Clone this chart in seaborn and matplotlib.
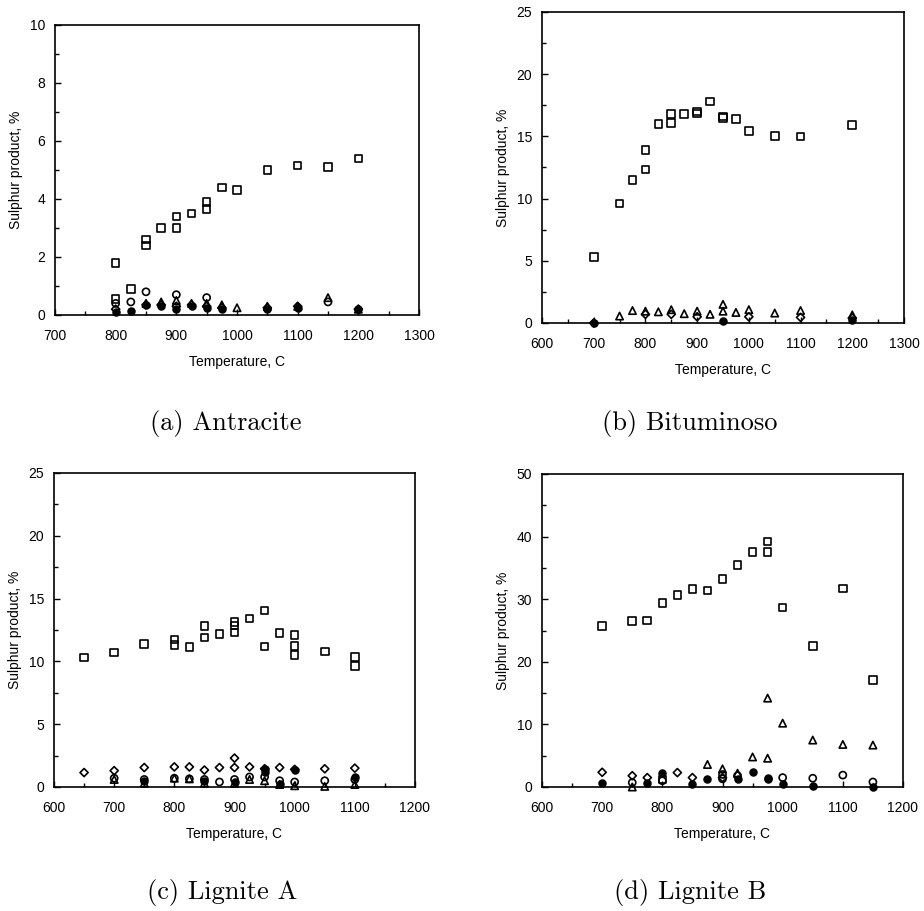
import matplotlib
matplotlib.use("Agg")
import matplotlib.pyplot as plt
import seaborn as sns
from matplotlib.ticker import MultipleLocator

sns.set_theme(style="white")
plt.rcParams['font.family'] = ['Liberation Sans', 'DejaVu Sans']

# ---------------- Data ----------------
# (a) Antracite
a_sq_T = [800, 800, 825, 850, 850, 875, 900, 900, 925, 950, 950, 975, 1000, 1050, 1100, 1150, 1200]
a_sq_v = [1.8, 0.55, 0.9, 2.6, 2.4, 3.0, 3.4, 3.0, 3.5, 3.9, 3.65, 4.4, 4.3, 5.0, 5.15, 5.1, 5.4]
a_ci_T = [800, 825, 850, 900, 950, 1150]
a_ci_v = [0.4, 0.45, 0.8, 0.7, 0.6, 0.45]
a_tr_T = [850, 875, 900, 925, 950, 975, 1000, 1050, 1100, 1150, 1200]
a_tr_v = [0.4, 0.45, 0.5, 0.4, 0.4, 0.35, 0.25, 0.3, 0.3, 0.6, 0.2]
a_di_T = [800, 850, 875, 900, 925, 950, 975, 1050, 1100, 1200]
a_di_v = [0.2, 0.35, 0.35, 0.3, 0.35, 0.3, 0.25, 0.25, 0.3, 0.2]
a_fi_T = [800, 825, 850, 875, 900, 925, 950, 975, 1050, 1100, 1200]
a_fi_v = [0.1, 0.15, 0.35, 0.3, 0.2, 0.3, 0.25, 0.2, 0.2, 0.25, 0.2]

# (b) Bituminoso
b_sq_T = [700, 750, 775, 800, 800, 825, 850, 850, 875, 900, 900, 925, 950, 950, 975, 1000, 1050, 1100, 1200]
b_sq_v = [5.3, 9.6, 11.5, 13.9, 12.35, 16.0, 16.8, 16.1, 16.8, 17.0, 16.85, 17.8, 16.6, 16.5, 16.4, 15.45, 15.05, 15.0, 15.9]
b_tr_T = [750, 775, 800, 825, 850, 875, 900, 925, 950, 950, 975, 1000, 1050, 1100, 1200]
b_tr_v = [0.56, 1.0, 0.95, 0.9, 1.07, 0.75, 0.95, 0.7, 1.5, 0.95, 0.85, 1.07, 0.8, 1.0, 0.65]
b_di_T = [700, 800, 850, 900, 1000, 1100, 1200]
b_di_v = [0.0, 0.7, 0.7, 0.5, 0.5, 0.45, 0.4]
b_fi_T = [700, 950, 1200]
b_fi_v = [0.0, 0.2, 0.25]

# (c) Lignite A
c_sq_T = [650, 700, 750, 800, 800, 825, 850, 850, 875, 900, 900, 900, 925, 950, 950, 975, 1000, 1000, 1000, 1050, 1100, 1100]
c_sq_v = [10.3, 10.7, 11.4, 11.75, 11.3, 11.15, 12.8, 11.9, 12.2, 13.15, 12.85, 12.3, 13.4, 14.05, 11.2, 12.25, 12.1, 11.25, 10.5, 10.8, 10.35, 9.65]
c_di_T = [650, 700, 750, 800, 825, 850, 875, 900, 900, 925, 950, 975, 1000, 1050, 1100]
c_di_v = [1.15, 1.3, 1.55, 1.6, 1.6, 1.35, 1.55, 2.3, 1.55, 1.6, 1.45, 1.55, 1.4, 1.45, 1.5]
c_ci_T = [700, 750, 800, 825, 850, 875, 900, 925, 950, 975, 1000, 1050, 1100]
c_ci_v = [0.7, 0.6, 0.7, 0.65, 0.6, 0.4, 0.6, 0.8, 0.8, 0.5, 0.4, 0.5, 0.6]
c_tr_T = [700, 750, 800, 825, 850, 900, 925, 950, 975, 1000, 1050, 1100]
c_tr_v = [0.6, 0.3, 0.7, 0.65, 0.3, 0.3, 0.6, 0.5, 0.2, 0.1, 0.05, 0.2]
c_fi_T = [750, 850, 900, 950, 950, 975, 1000, 1100]
c_fi_v = [0.5, 0.5, 0.4, 1.2, 1.4, 0.2, 1.35, 0.8]

# (d) Lignite B
d_sq_T = [700, 750, 775, 800, 825, 850, 875, 900, 925, 950, 975, 975, 1000, 1050, 1100, 1150]
d_sq_v = [25.7, 26.5, 26.6, 29.4, 30.7, 31.6, 31.4, 33.2, 35.5, 37.5, 39.2, 37.5, 28.7, 22.5, 31.7, 17.1]
d_tr_T = [750, 875, 900, 925, 950, 975, 975, 1000, 1050, 1100, 1150]
d_tr_v = [0.0, 3.6, 2.9, 2.2, 4.8, 14.2, 4.6, 10.2, 7.5, 6.8, 6.7]
d_di_T = [700, 750, 775, 825, 850, 900]
d_di_v = [2.35, 1.8, 1.5, 2.3, 1.5, 1.5]
d_ci_T = [750, 800, 900, 900, 925, 1000, 1050, 1100, 1150]
d_ci_v = [0.7, 1.0, 1.3, 2.0, 1.8, 1.5, 1.4, 1.9, 0.8]
d_sq2_T = [800]
d_sq2_v = [1.2]
d_fi_T = [700, 775, 800, 850, 875, 925, 950, 975, 975, 1000, 1050, 1150]
d_fi_v = [0.6, 0.7, 2.3, 0.4, 1.3, 1.2, 2.4, 1.5, 1.2, 0.5, 0.1, 0.0]

panels = [
    dict(pos=[55, 25, 419, 315], xlim=(700, 1300), xmaj=100, ylim=(0, 10), ymaj=2,
         cap="(a) Antracite", cap_xy=(226, 423),
         series=[(a_sq_T, a_sq_v, 's', False), (a_ci_T, a_ci_v, 'o', False),
                 (a_tr_T, a_tr_v, '^', False), (a_di_T, a_di_v, 'D', False),
                 (a_fi_T, a_fi_v, 'o', True)]),
    dict(pos=[542, 12, 904, 323], xlim=(600, 1300), xmaj=100, ylim=(0, 25), ymaj=5,
         cap="(b) Bituminoso", cap_xy=(690, 423),
         series=[(b_sq_T, b_sq_v, 's', False), (b_tr_T, b_tr_v, '^', False),
                 (b_di_T, b_di_v, 'D', False), (b_fi_T, b_fi_v, 'o', True)]),
    dict(pos=[54, 473, 415, 787], xlim=(600, 1200), xmaj=100, ylim=(0, 25), ymaj=5,
         cap="(c) Lignite A", cap_xy=(222, 893),
         series=[(c_sq_T, c_sq_v, 's', False), (c_di_T, c_di_v, 'D', False),
                 (c_ci_T, c_ci_v, 'o', False), (c_tr_T, c_tr_v, '^', False),
                 (c_fi_T, c_fi_v, 'o', True)]),
    dict(pos=[542, 474, 903, 787], xlim=(600, 1200), xmaj=100, ylim=(0, 50), ymaj=10,
         cap="(d) Lignite B", cap_xy=(690, 893),
         series=[(d_sq_T, d_sq_v, 's', False), (d_tr_T, d_tr_v, '^', False),
                 (d_di_T, d_di_v, 'D', False), (d_ci_T, d_ci_v, 'o', False),
                 (d_sq2_T, d_sq2_v, 's', False), (d_fi_T, d_fi_v, 'o', True)]),
]

W, H = 924, 911
fig = plt.figure(figsize=(W / 100, H / 100), dpi=100)

sizes = {'s': 30, 'o': 26, '^': 28, 'D': 17}
for p in panels:
    l, t, r, b = p['pos']
    ax = fig.add_axes([l / W, 1 - b / H, (r - l) / W, (b - t) / H])
    for T, v, m, filled in p['series']:
        if filled:
            sns.scatterplot(x=T, y=v, marker=m, s=sizes[m], color='black',
                            edgecolor='black', linewidth=1.0, ax=ax, zorder=4, clip_on=False)
        else:
            sns.scatterplot(x=T, y=v, marker=m, s=sizes[m], facecolors='none',
                            edgecolors='black', linewidth=1.2, ax=ax, zorder=3, clip_on=False)
    ax.set_xlim(*p['xlim'])
    ax.set_ylim(*p['ylim'])
    ax.xaxis.set_major_locator(MultipleLocator(p['xmaj']))
    ax.xaxis.set_minor_locator(MultipleLocator(p['xmaj'] / 2))
    ax.yaxis.set_major_locator(MultipleLocator(p['ymaj']))
    ax.yaxis.set_minor_locator(MultipleLocator(p['ymaj'] / 2))
    ax.tick_params(which='both', direction='in', bottom=True, left=True,
                   labelsize=10, width=1.0, color='black', labelcolor='black')
    ax.tick_params(axis='x', pad=10)
    ax.tick_params(axis='y', pad=7)
    ax.tick_params(which='major', length=4)
    ax.tick_params(which='minor', length=3)
    for s in ax.spines.values():
        s.set_color('black')
        s.set_linewidth(1.2)
    ax.set_xlabel("Temperature, C", fontsize=10, color='black', labelpad=9)
    ax.set_ylabel("Sulphur product, %", fontsize=10, color='black', labelpad=5)
    cx, cy = p['cap_xy']
    fig.text(cx / W, 1 - cy / H, p['cap'], ha='center', va='center',
             fontsize=19, family=['cmr10', 'DejaVu Serif'], color='black')

fig.savefig("out.png", dpi=100, facecolor='white')
